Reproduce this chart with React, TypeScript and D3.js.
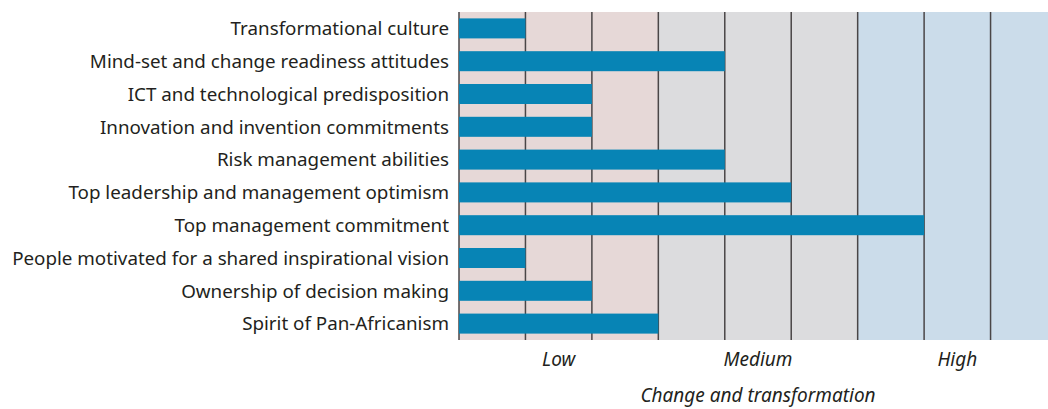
import * as d3 from "d3";
import React from "react";

const categories = [
  "Transformational culture",
  "Mind-set and change readiness attitudes",
  "ICT and technological predisposition",
  "Innovation and invention commitments",
  "Risk management abilities",
  "Top leadership and management optimism",
  "Top management commitment",
  "People motivated for a shared inspirational vision",
  "Ownership of decision making",
  "Spirit of Pan-Africanism",
];
const values = [1, 4, 2, 2, 4, 5, 7, 1, 2, 3];

const levels = ["Low", "Medium", "High"];
const levelStart = [0, 3, 6];
const levelEnd = [3, 6, 9];
const levelColors = ["#e6d8d7", "#dcdcde", "#cbdcea"];
const gridTicks = [0, 1, 2, 3, 4, 5, 6, 7, 8, 9];

const W = 1048;
const H = 409;
const margin = { top: 12, left: 459, bottom: 69 };
const plotBottom = H - margin.bottom;

const App = () => {
  const x = d3.scaleLinear().domain([0, 9]).range([margin.left, 1057]);
  const y = d3
    .scaleBand()
    .domain(categories)
    .range([margin.top, plotBottom])
    .paddingInner(0.39)
    .paddingOuter(0.195);

  const font = "'Noto Sans', sans-serif";

  return (
    <svg
      width={W}
      height={H}
      style={{ position: "absolute", left: 0, top: 0, fontFamily: font }}
    >
      {levels.map((l, i) => (
        <rect
          key={l}
          x={x(levelStart[i])}
          y={margin.top}
          width={x(levelEnd[i]) - x(levelStart[i])}
          height={plotBottom - margin.top}
          fill={levelColors[i]}
        />
      ))}
      {gridTicks.map(t => (
        <line
          key={t}
          x1={x(t)}
          x2={x(t)}
          y1={margin.top}
          y2={plotBottom}
          stroke="#4a4647"
          strokeWidth={1.5}
        />
      ))}
      {categories.map((c, i) => (
        <rect
          key={c}
          x={x(0)}
          y={y(c)}
          width={x(values[i]) - x(0)}
          height={y.bandwidth()}
          fill="#0784b5"
        />
      ))}
      {categories.map(c => (
        <text
          key={c}
          x={449}
          y={y(c)! + y.bandwidth() / 2}
          dy="0.36em"
          textAnchor="end"
          fontSize={18.8}
          fill="#231f20"
        >
          {c}
        </text>
      ))}
      {levels.map((l, i) => (
        <text
          key={l}
          x={x((levelStart[i] + levelEnd[i]) / 2)}
          y={366}
          textAnchor="middle"
          fontSize={19}
          fontStyle="italic"
          fill="#231f20"
        >
          {l}
        </text>
      ))}
      <text
        x={x(4.5)}
        y={402}
        textAnchor="middle"
        fontSize={19}
        fontStyle="italic"
        fill="#231f20"
      >
        Change and transformation
      </text>
    </svg>
  );
};

export default App;
